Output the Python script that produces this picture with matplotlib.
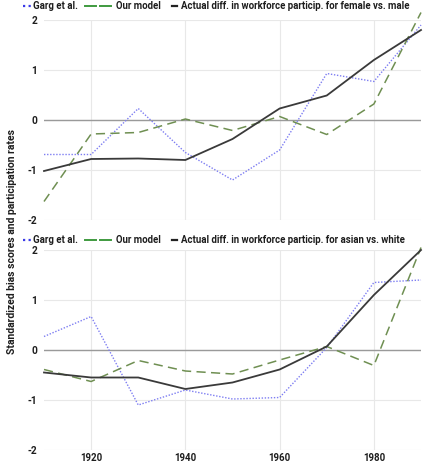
import matplotlib
matplotlib.use("Agg")
import matplotlib.pyplot as plt
from matplotlib.lines import Line2D

plt.rcParams['font.family'] = ['Roboto', 'DejaVu Sans']
plt.rcParams['font.weight'] = 'bold'

years = [1910, 1920, 1930, 1940, 1950, 1960, 1970, 1980, 1990]

# Panel 1: female vs. male
garg_fm = [-0.69, -0.69, 0.23, -0.65, -1.2, -0.6, 0.93, 0.77, 1.9]
ours_fm = [-1.63, -0.28, -0.25, 0.02, -0.21, 0.07, -0.29, 0.32, 2.15]
actual_fm = [-1.02, -0.78, -0.77, -0.8, -0.38, 0.23, 0.49, 1.2, 1.8]

# Panel 2: asian vs. white
garg_aw = [0.27, 0.67, -1.1, -0.8, -0.98, -0.95, 0.05, 1.35, 1.4]
ours_aw = [-0.39, -0.63, -0.21, -0.42, -0.48, -0.2, 0.07, -0.31, 2.05]
actual_aw = [-0.45, -0.55, -0.55, -0.78, -0.65, -0.39, 0.07, 1.1, 2.0]

legend_labels_fm = ["Garg et al.", "Our model",
                    "Actual diff. in workforce particip. for female vs. male"]
legend_labels_aw = ["Garg et al.", "Our model",
                    "Actual diff. in workforce particip. for asian vs. white"]

yticks = [-2, -1, 0, 1, 2]
xticks = [1920, 1940, 1960, 1980]

BLUE = '#7d7df2'
GREEN = '#6f8f52'
BLACK = '#3a3a3a'
TXT = '#1e1e1e'

W, H = 425, 465
fig = plt.figure(figsize=(W / 100, H / 100), dpi=100)


def px_axes(x0, y0, x1, y1):
    return fig.add_axes([x0 / W, 1 - y1 / H, (x1 - x0) / W, (y1 - y0) / H])


def style(ax, show_x):
    ax.set_xlim(1910, 1990)
    ax.set_ylim(-2, 2)
    for s in ax.spines.values():
        s.set_visible(False)
    ax.set_yticks(yticks)
    ax.set_yticklabels([str(t) for t in yticks], fontsize=7.3, fontweight='bold', color=TXT)
    ax.set_xticks(xticks)
    if show_x:
        ax.set_xticklabels([str(t) for t in xticks], fontsize=7.0, fontweight='bold', color=TXT)
    else:
        ax.set_xticklabels([])
    ax.tick_params(length=0, pad=5)
    ax.tick_params(axis='x', pad=2.5)
    ax.grid(True, color='#e8e8e8', linewidth=0.8)
    ax.set_axisbelow(True)
    ax.axhline(0, color='#9a9a9a', linewidth=1.0, zorder=1)


def panel(ax, garg, ours, actual):
    ax.plot(years, garg, color=BLUE, linestyle=(0, (1, 1.2)), linewidth=1.0, clip_on=False, zorder=3)
    ax.plot(years, ours, color=GREEN, linestyle=(0, (6, 3.5)), linewidth=1.1, clip_on=False, zorder=3)
    ax.plot(years, actual, color=BLACK, linestyle='-', linewidth=1.3, clip_on=False, zorder=4)


def legend(ypx, labels):
    t = fig.transFigure
    def fx(x):
        return x / W
    def fy(y):
        return 1 - y / H
    fig.add_artist(Line2D([fx(23), fx(31)], [fy(ypx), fy(ypx)], color='#3a3ae8',
                          linestyle=(0, (1, 1.5)), linewidth=1.6, transform=t))
    fig.text(fx(33), fy(ypx), labels[0], fontsize=6.9, fontweight='bold', va='center', ha='left', color=TXT)
    for a, b in ((85, 96), (100, 111)):
        fig.add_artist(Line2D([fx(a), fx(b)], [fy(ypx), fy(ypx)], color='#3f9a3f',
                              linestyle='-', linewidth=1.4, transform=t))
    fig.text(fx(116), fy(ypx), labels[1], fontsize=6.9, fontweight='bold', va='center', ha='left', color=TXT)
    fig.add_artist(Line2D([fx(172), fx(177)], [fy(ypx), fy(ypx)], color='#222222',
                          linestyle='-', linewidth=1.6, transform=t))
    fig.text(fx(181), fy(ypx), labels[2], fontsize=6.9, fontweight='bold', va='center', ha='left', color=TXT)


ax1 = px_axes(44, 20, 421, 220)
style(ax1, False)
panel(ax1, garg_fm, ours_fm, actual_fm)

ax2 = px_axes(44, 250, 421, 450)
style(ax2, True)
panel(ax2, garg_aw, ours_aw, actual_aw)

legend(6, legend_labels_fm)
legend(240, legend_labels_aw)

fig.text(12 / W, 1 - 241 / H, "Standardized bias scores and participation rates",
         rotation=90, fontsize=7.5, fontweight='bold', va='center', ha='center', color=TXT)

fig.savefig("out.png", dpi=100)
